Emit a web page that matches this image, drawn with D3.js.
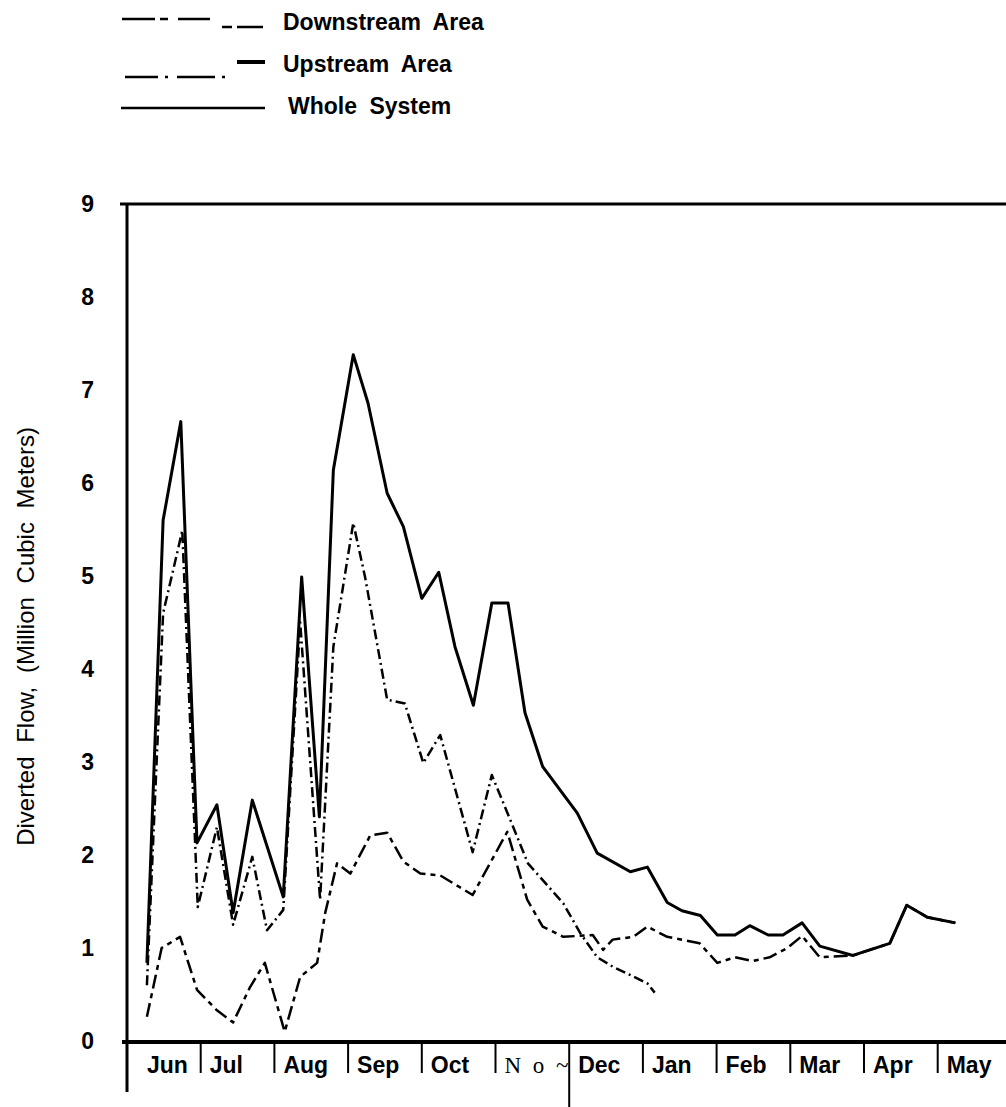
<!DOCTYPE html>
<html>
<head>
<meta charset="utf-8">
<script src="https://cdn.jsdelivr.net/npm/d3@7"></script>
<style>
  body { margin: 0; background: #fff; }
  svg text { font-family: "Liberation Sans", Arial, sans-serif; fill: #000; }
  .line { fill: none; stroke: #000; stroke-linejoin: round; }
</style>
</head>
<body>
<div id="chart"></div>
<script>
// month labels (x axis), months counted from 1 June
var months = ["Jun", "Jul", "Aug", "Sep", "Oct", "N o ~", "Dec", "Jan", "Feb", "Mar", "Apr", "May"];
var yTicks = [0, 1, 2, 3, 4, 5, 6, 7, 8, 9];

// whole system: position in months since 1 Jun, value in million m3
var wholeT = [0.27, 0.49, 0.73, 0.95, 1.22, 1.44, 1.70, 2.12, 2.37, 2.61, 2.80, 3.07, 3.27, 3.53, 3.75, 4.00,
  4.23, 4.45, 4.70, 4.95, 5.17, 5.40, 5.64, 6.11, 6.38, 6.83, 7.06, 7.33, 7.53, 7.78, 8.01, 8.25, 8.45, 8.70,
  8.90, 9.16, 9.40, 9.85, 10.35, 10.58, 10.86, 11.24];
var wholeV = [0.84, 5.6, 6.66, 2.13, 2.54, 1.38, 2.59, 1.55, 4.99, 2.41, 6.14, 7.38, 6.86, 5.89, 5.53, 4.76,
  5.04, 4.24, 3.61, 4.71, 4.71, 3.53, 2.95, 2.45, 2.02, 1.82, 1.87, 1.49, 1.40, 1.35, 1.14, 1.14, 1.24, 1.14,
  1.14, 1.27, 1.02, 0.92, 1.05, 1.46, 1.33, 1.27];

// upstream area (dash-dot), ends in January
var upT = [0.27, 0.49, 0.69, 0.75, 0.96, 1.22, 1.44, 1.70, 1.90, 2.12, 2.35, 2.62, 2.80, 3.07, 3.23, 3.53,
  3.77, 4.02, 4.25, 4.69, 4.95, 5.20, 5.44, 5.92, 6.15, 6.38, 6.59, 7.06, 7.16];
var upV = [0.6, 4.6, 5.28, 5.49, 1.44, 2.3, 1.25, 1.98, 1.19, 1.41, 4.5, 1.52, 4.24, 5.57, 4.99, 3.67,
  3.63, 2.99, 3.29, 2.03, 2.86, 2.38, 1.91, 1.48, 1.16, 0.9, 0.8, 0.62, 0.52];

// downstream area (long-short dash)
var downT = [0.27, 0.47, 0.72, 0.95, 1.22, 1.44, 1.67, 1.87, 2.14, 2.35, 2.58, 2.69, 2.85, 3.03, 3.30, 3.53,
  3.75, 3.98, 4.25, 4.69, 5.16, 5.43, 5.64, 5.92, 6.32, 6.46, 6.59, 6.87, 7.06, 7.33, 7.77, 8.01, 8.25, 8.49,
  8.72, 8.96, 9.16, 9.40, 9.85, 10.35, 10.58, 10.86, 11.24];
var downV = [0.26, 1.0, 1.12, 0.55, 0.33, 0.2, 0.58, 0.84, 0.1, 0.69, 0.84, 1.38, 1.91, 1.8, 2.21, 2.24,
  1.93, 1.8, 1.78, 1.57, 2.25, 1.52, 1.23, 1.12, 1.14, 0.98, 1.09, 1.12, 1.23, 1.12, 1.05, 0.84, 0.9, 0.86,
  0.9, 1.0, 1.13, 0.9, 0.92, 1.05, 1.46, 1.33, 1.27];

var width = 1006, height = 1107;

var svg = d3.select("#chart").append("svg")
  .attr("width", width)
  .attr("height", height);

var x = d3.scaleLinear().domain([0, 12]).range([127, 127 + 12 * 73.7]);
var y = d3.scaleLinear().domain([0, 9]).range([1041, 204]);

function zip(t, v) {
  return t.map(function (d, i) { return [d, v[i]]; });
}

var line = d3.line()
  .x(function (d) { return x(d[0]); })
  .y(function (d) { return y(d[1]); });

// frame lines
svg.append("line").attr("x1", 120).attr("x2", width).attr("y1", y(9)).attr("y2", y(9))
  .attr("stroke", "#000").attr("stroke-width", 3);
svg.append("line").attr("x1", 127).attr("x2", 127).attr("y1", y(9) - 1).attr("y2", 1092)
  .attr("stroke", "#000").attr("stroke-width", 3);
svg.append("line").attr("x1", 122).attr("x2", width).attr("y1", 1042).attr("y2", 1042)
  .attr("stroke", "#000").attr("stroke-width", 4);

// y tick labels
svg.selectAll(".ytick").data(yTicks).enter().append("text")
  .attr("class", "ytick")
  .attr("x", 94)
  .attr("y", function (d) { return y(d); })
  .attr("dy", "0.36em")
  .attr("text-anchor", "end")
  .style("font-size", "23px")
  .style("font-weight", "bold")
  .text(function (d) { return d; });

// month separators
var seps = d3.range(1, 12);
svg.selectAll(".sep").data(seps).enter().append("line")
  .attr("x1", function (d) { return x(d); })
  .attr("x2", function (d) { return x(d); })
  .attr("y1", 1044)
  .attr("y2", function (d) { return d === 6 ? height : 1073; })
  .attr("stroke", "#000")
  .attr("stroke-width", 2);

svg.selectAll(".month").data(months).enter().append("text")
  .attr("x", function (d, i) { return x(i) + (i === 0 ? 20 : 9); })
  .attr("y", 1073)
  .style("font-size", "23px")
  .style("font-weight", function (d) { return d === "N o ~" ? "normal" : "bold"; })
  .style("font-family", function (d) { return d === "N o ~" ? "'Liberation Serif', serif" : null; })
  .style("letter-spacing", function (d) { return d === "N o ~" ? "3px" : null; })
  .text(function (d) { return d; });

// y axis title
svg.append("text")
  .attr("transform", "translate(34," + y(4.35) + ") rotate(-90)")
  .attr("text-anchor", "middle")
  .style("font-size", "24px")
  .style("word-spacing", "7px")
  .text("Diverted Flow, (Million Cubic Meters)");

// series
svg.append("path").datum(zip(downT, downV)).attr("class", "line")
  .attr("d", line).attr("stroke-width", 2.5).attr("stroke-dasharray", "14,5,5,5");
svg.append("path").datum(zip(upT, upV)).attr("class", "line")
  .attr("d", line).attr("stroke-width", 2.5).attr("stroke-dasharray", "10,4,2,4");
svg.append("path").datum(zip(wholeT, wholeV)).attr("class", "line")
  .attr("d", line).attr("stroke-width", 3);

// legend
var legend = svg.append("g");
legend.append("line").attr("x1", 122).attr("x2", 210).attr("y1", 19).attr("y2", 19)
  .attr("stroke", "#000").attr("stroke-width", 2.5).attr("stroke-dasharray", "33,5,8,10,33");
legend.append("line").attr("x1", 222).attr("x2", 263).attr("y1", 27).attr("y2", 27)
  .attr("stroke", "#000").attr("stroke-width", 2.5).attr("stroke-dasharray", "10,5,26");
legend.append("line").attr("x1", 125).attr("x2", 228).attr("y1", 77).attr("y2", 77)
  .attr("stroke", "#000").attr("stroke-width", 2.5).attr("stroke-dasharray", "33,7,3,9,38,7,3,9");
legend.append("line").attr("x1", 237).attr("x2", 265).attr("y1", 62).attr("y2", 62)
  .attr("stroke", "#000").attr("stroke-width", 4);
legend.append("line").attr("x1", 121).attr("x2", 265).attr("y1", 108).attr("y2", 108)
  .attr("stroke", "#000").attr("stroke-width", 2.5);

var legendText = [["Downstream Area", 283, 30], ["Upstream Area", 283, 72], ["Whole System", 288, 114]];
legend.selectAll("text").data(legendText).enter().append("text")
  .attr("x", function (d) { return d[1]; })
  .attr("y", function (d) { return d[2]; })
  .style("font-size", "23px")
  .style("font-weight", "bold")
  .style("word-spacing", "6px")
  .text(function (d) { return d[0]; });
</script>
</body>
</html>
